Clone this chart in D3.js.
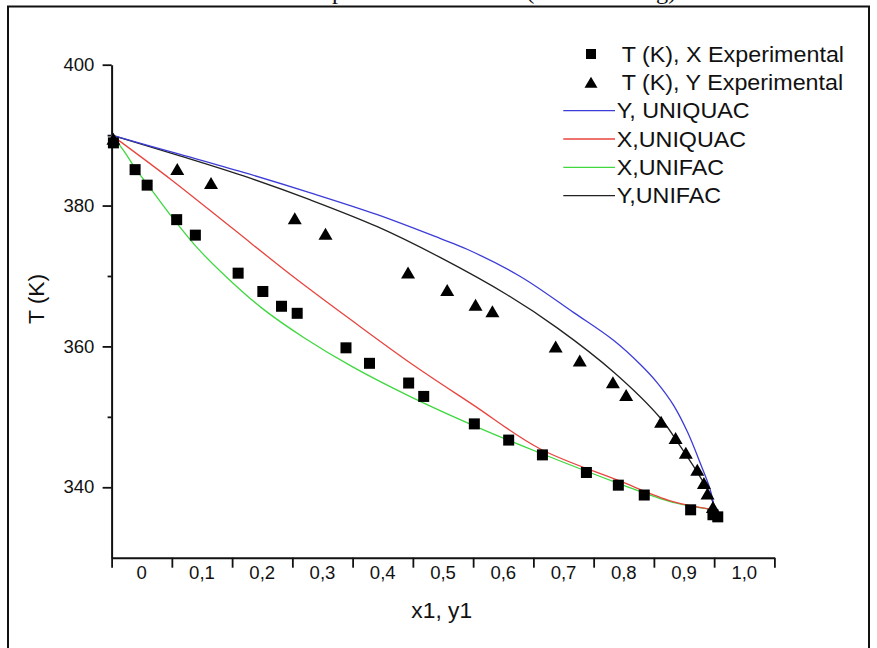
<!DOCTYPE html>
<html>
<head>
<meta charset="utf-8">
<script src="https://cdn.jsdelivr.net/npm/d3@7"></script>
<style>
  html, body { margin: 0; padding: 0; background: #fff; }
  svg { display: block; }
</style>
</head>
<body>
<svg id="chart" width="877" height="648"></svg>
<script>
// ---------------- data ----------------
const xExpX = [-0.047, -0.011, 0.009, 0.058, 0.089, 0.160, 0.201, 0.232, 0.258, 0.339, 0.378, 0.443, 0.468, 0.552, 0.609, 0.665, 0.738, 0.791, 0.834, 0.911, 0.948, 0.956];
const tExpX = [388.9, 385.1, 382.9, 378.0, 375.8, 370.4, 367.8, 365.7, 364.7, 359.8, 357.6, 354.8, 352.9, 349.0, 346.7, 344.6, 342.1, 340.3, 338.9, 336.8, 336.1, 335.8];

const xExpY = [-0.047, 0.059, 0.115, 0.254, 0.305, 0.442, 0.507, 0.554, 0.582, 0.687, 0.727, 0.782, 0.804, 0.862, 0.886, 0.903, 0.922, 0.933, 0.939, 0.948];
const tExpY = [389.5, 385.2, 383.2, 378.2, 376.0, 370.5, 368.0, 365.9, 365.0, 360.0, 358.0, 354.9, 353.1, 349.3, 347.0, 344.9, 342.5, 340.6, 339.1, 337.2];

const yUniquacX = [-0.05, 0.058, 0.169, 0.280, 0.391, 0.496, 0.540, 0.629, 0.717, 0.784, 0.828, 0.856, 0.883, 0.906, 0.928, 0.943, 0.951];
const yUniquacT = [390.0, 387.4, 384.7, 381.8, 378.7, 375.3, 373.8, 369.9, 364.8, 360.8, 357.4, 354.8, 351.6, 347.8, 343.2, 339.8, 336.8];

const xUniquacX = [-0.05, 0.05, 0.15, 0.25, 0.35, 0.45, 0.55, 0.66, 0.79, 0.88, 0.951];
const xUniquacT = [390.0, 383.6, 376.8, 370.0, 363.6, 357.4, 351.7, 345.5, 341.0, 338.0, 336.8];

const xUnifacX = [-0.05, -0.03, -0.01, 0.02, 0.05, 0.09, 0.14, 0.20, 0.27, 0.35, 0.45, 0.55, 0.66, 0.79, 0.88, 0.951];
const xUnifacT = [390.0, 387.8, 385.2, 381.8, 378.4, 374.2, 369.9, 365.4, 361.2, 357.1, 352.7, 348.8, 344.9, 340.6, 337.9, 336.8];

const yUnifacX = [-0.05, 0.058, 0.169, 0.280, 0.391, 0.496, 0.607, 0.690, 0.784, 0.861, 0.894, 0.928, 0.945, 0.951];
const yUnifacT = [390.0, 387.2, 384.2, 380.8, 377.0, 372.6, 367.3, 362.6, 356.3, 349.8, 345.8, 341.3, 338.6, 336.8];

const xTickPos = [-0.05, 0.05, 0.15, 0.25, 0.35, 0.45, 0.55, 0.65, 0.75, 0.85, 0.95, 1.05];
const xLabelVals = [0, 0.1, 0.2, 0.3, 0.4, 0.5, 0.6, 0.7, 0.8, 0.9, 1.0];
const xLabelText = ["0", "0,1", "0,2", "0,3", "0,4", "0,5", "0,6", "0,7", "0,8", "0,9", "1,0"];
const yMajor = [340, 360, 380, 400];
const yMinor = [350, 370, 390];

const legendLabels = ["T (K), X Experimental", "T (K), Y Experimental", "Y, UNIQUAC", "X,UNIQUAC", "X,UNIFAC", "Y,UNIFAC"];
const titleText = "Temperature of mixture (at 760 mmHg)";

// ---------------- layout ----------------
const svg = d3.select("#chart");
const FONT = "'Liberation Sans', Arial, sans-serif";
const SX = 1.06; // slight horizontal stretch of the original picture

const x = d3.scaleLinear().domain([-0.05, 1.05]).range([111.6, 774.4]);
const y = d3.scaleLinear().domain([330, 400]).range([557.7, 64.7]);

const COL = { blue: "#3c3cd8", red: "#e8453f", green: "#3fd83f", black: "#222222" };

function stext(g, px, py, str, size, anchor, family) {
  return g.append("text")
    .attr("transform", `translate(${px},${py}) scale(${SX},1)`)
    .attr("text-anchor", anchor || "start")
    .style("font-family", family || FONT)
    .style("font-size", size + "px")
    .attr("fill", "#111")
    .text(str);
}

// clipped title at top (cut off in the original too)
stext(svg, 289, -1, titleText, 23, "start", "'Liberation Serif', 'Times New Roman', serif");

// frame
svg.append("rect")
  .attr("x", 8).attr("y", 6.5).attr("width", 861).attr("height", 700)
  .attr("fill", "none").attr("stroke", "#111").attr("stroke-width", 2);

// ---------------- axes ----------------
const xAxisG = svg.append("g").attr("transform", `translate(0,${y(330)})`)
  .call(d3.axisBottom(x).tickValues(xTickPos).tickSize(10).tickSizeOuter(0).tickFormat(""));
xAxisG.select(".domain").attr("stroke", "#111").attr("stroke-width", 2);
xAxisG.selectAll(".tick line").attr("stroke", "#111").attr("stroke-width", 1.8);

const yAxisG = svg.append("g").attr("transform", `translate(${x(-0.05)},0)`)
  .call(d3.axisLeft(y).tickValues(yMajor).tickSize(9).tickSizeOuter(0).tickFormat(""));
yAxisG.select(".domain").attr("stroke", "#111").attr("stroke-width", 2);
yAxisG.selectAll(".tick line").attr("stroke", "#111").attr("stroke-width", 1.8);

const yMinorG = svg.append("g").attr("transform", `translate(${x(-0.05)},0)`)
  .call(d3.axisLeft(y).tickValues(yMinor).tickSize(4).tickSizeOuter(0).tickFormat(""));
yMinorG.select(".domain").remove();
yMinorG.selectAll(".tick line").attr("stroke", "#111").attr("stroke-width", 1.8);

// tick labels
const labG = svg.append("g");
xLabelVals.forEach((v, i) => stext(labG, x(v), 579.3, xLabelText[i], 17.5, "middle"));
yMajor.forEach(v => stext(labG, 94.3, y(v) + 6.2, String(v), 17.5, "end"));

// axis titles
stext(svg, 441.7, 618, "x1, y1", 21.5, "middle");
svg.append("text")
  .attr("transform", `translate(44,299) rotate(-90) scale(${SX},1)`)
  .attr("text-anchor", "middle")
  .style("font-family", FONT).style("font-size", "21.5px")
  .attr("fill", "#111")
  .text("T (K)");

// ---------------- curves ----------------
const line = d3.line().x(d => x(d[0])).y(d => y(d[1])).curve(d3.curveCatmullRom.alpha(0.5));
const curves = [
  { xs: xUnifacX, ts: xUnifacT, c: COL.green },
  { xs: xUniquacX, ts: xUniquacT, c: COL.red },
  { xs: yUnifacX, ts: yUnifacT, c: COL.black },
  { xs: yUniquacX, ts: yUniquacT, c: COL.blue }
];
curves.forEach(cv => {
  svg.append("path")
    .datum(d3.zip(cv.xs, cv.ts))
    .attr("d", line)
    .attr("fill", "none")
    .attr("stroke", cv.c)
    .attr("stroke-width", 1.3);
});

// ---------------- markers ----------------
function triPath(cx, cy, w, h) {
  return `M${cx},${cy - h / 2}L${cx + w / 2},${cy + h / 2}L${cx - w / 2},${cy + h / 2}Z`;
}
svg.append("g").selectAll("path")
  .data(d3.zip(xExpY, tExpY))
  .join("path")
  .attr("d", d => triPath(x(d[0]), y(d[1]), 14, 12))
  .attr("fill", "#000");

svg.append("g").selectAll("rect")
  .data(d3.zip(xExpX, tExpX))
  .join("rect")
  .attr("x", d => x(d[0]) - 5.5)
  .attr("y", d => y(d[1]) - 5.5)
  .attr("width", 11).attr("height", 11)
  .attr("fill", "#000");

// ---------------- legend ----------------
const leg = svg.append("g");
const base0 = 61.7, step = 28.33;
legendLabels.forEach((lab, i) => {
  const by = base0 + i * step;
  const cy = by - 7.7;
  if (i === 0) {
    leg.append("rect").attr("x", 591 - 5).attr("y", cy - 5).attr("width", 10).attr("height", 10).attr("fill", "#000");
    stext(leg, 621.7, by, lab, 22, "start");
  } else if (i === 1) {
    leg.append("path").attr("d", triPath(591, cy, 13, 11)).attr("fill", "#000");
    stext(leg, 621.7, by, lab, 22, "start");
  } else {
    const c = [COL.blue, COL.red, COL.green, COL.black][i - 2];
    leg.append("line").attr("x1", 563.3).attr("x2", 615).attr("y1", cy).attr("y2", cy)
      .attr("stroke", c).attr("stroke-width", 1.3);
    stext(leg, 616.7, by, lab, 22, "start");
  }
});
</script>
</body>
</html>
